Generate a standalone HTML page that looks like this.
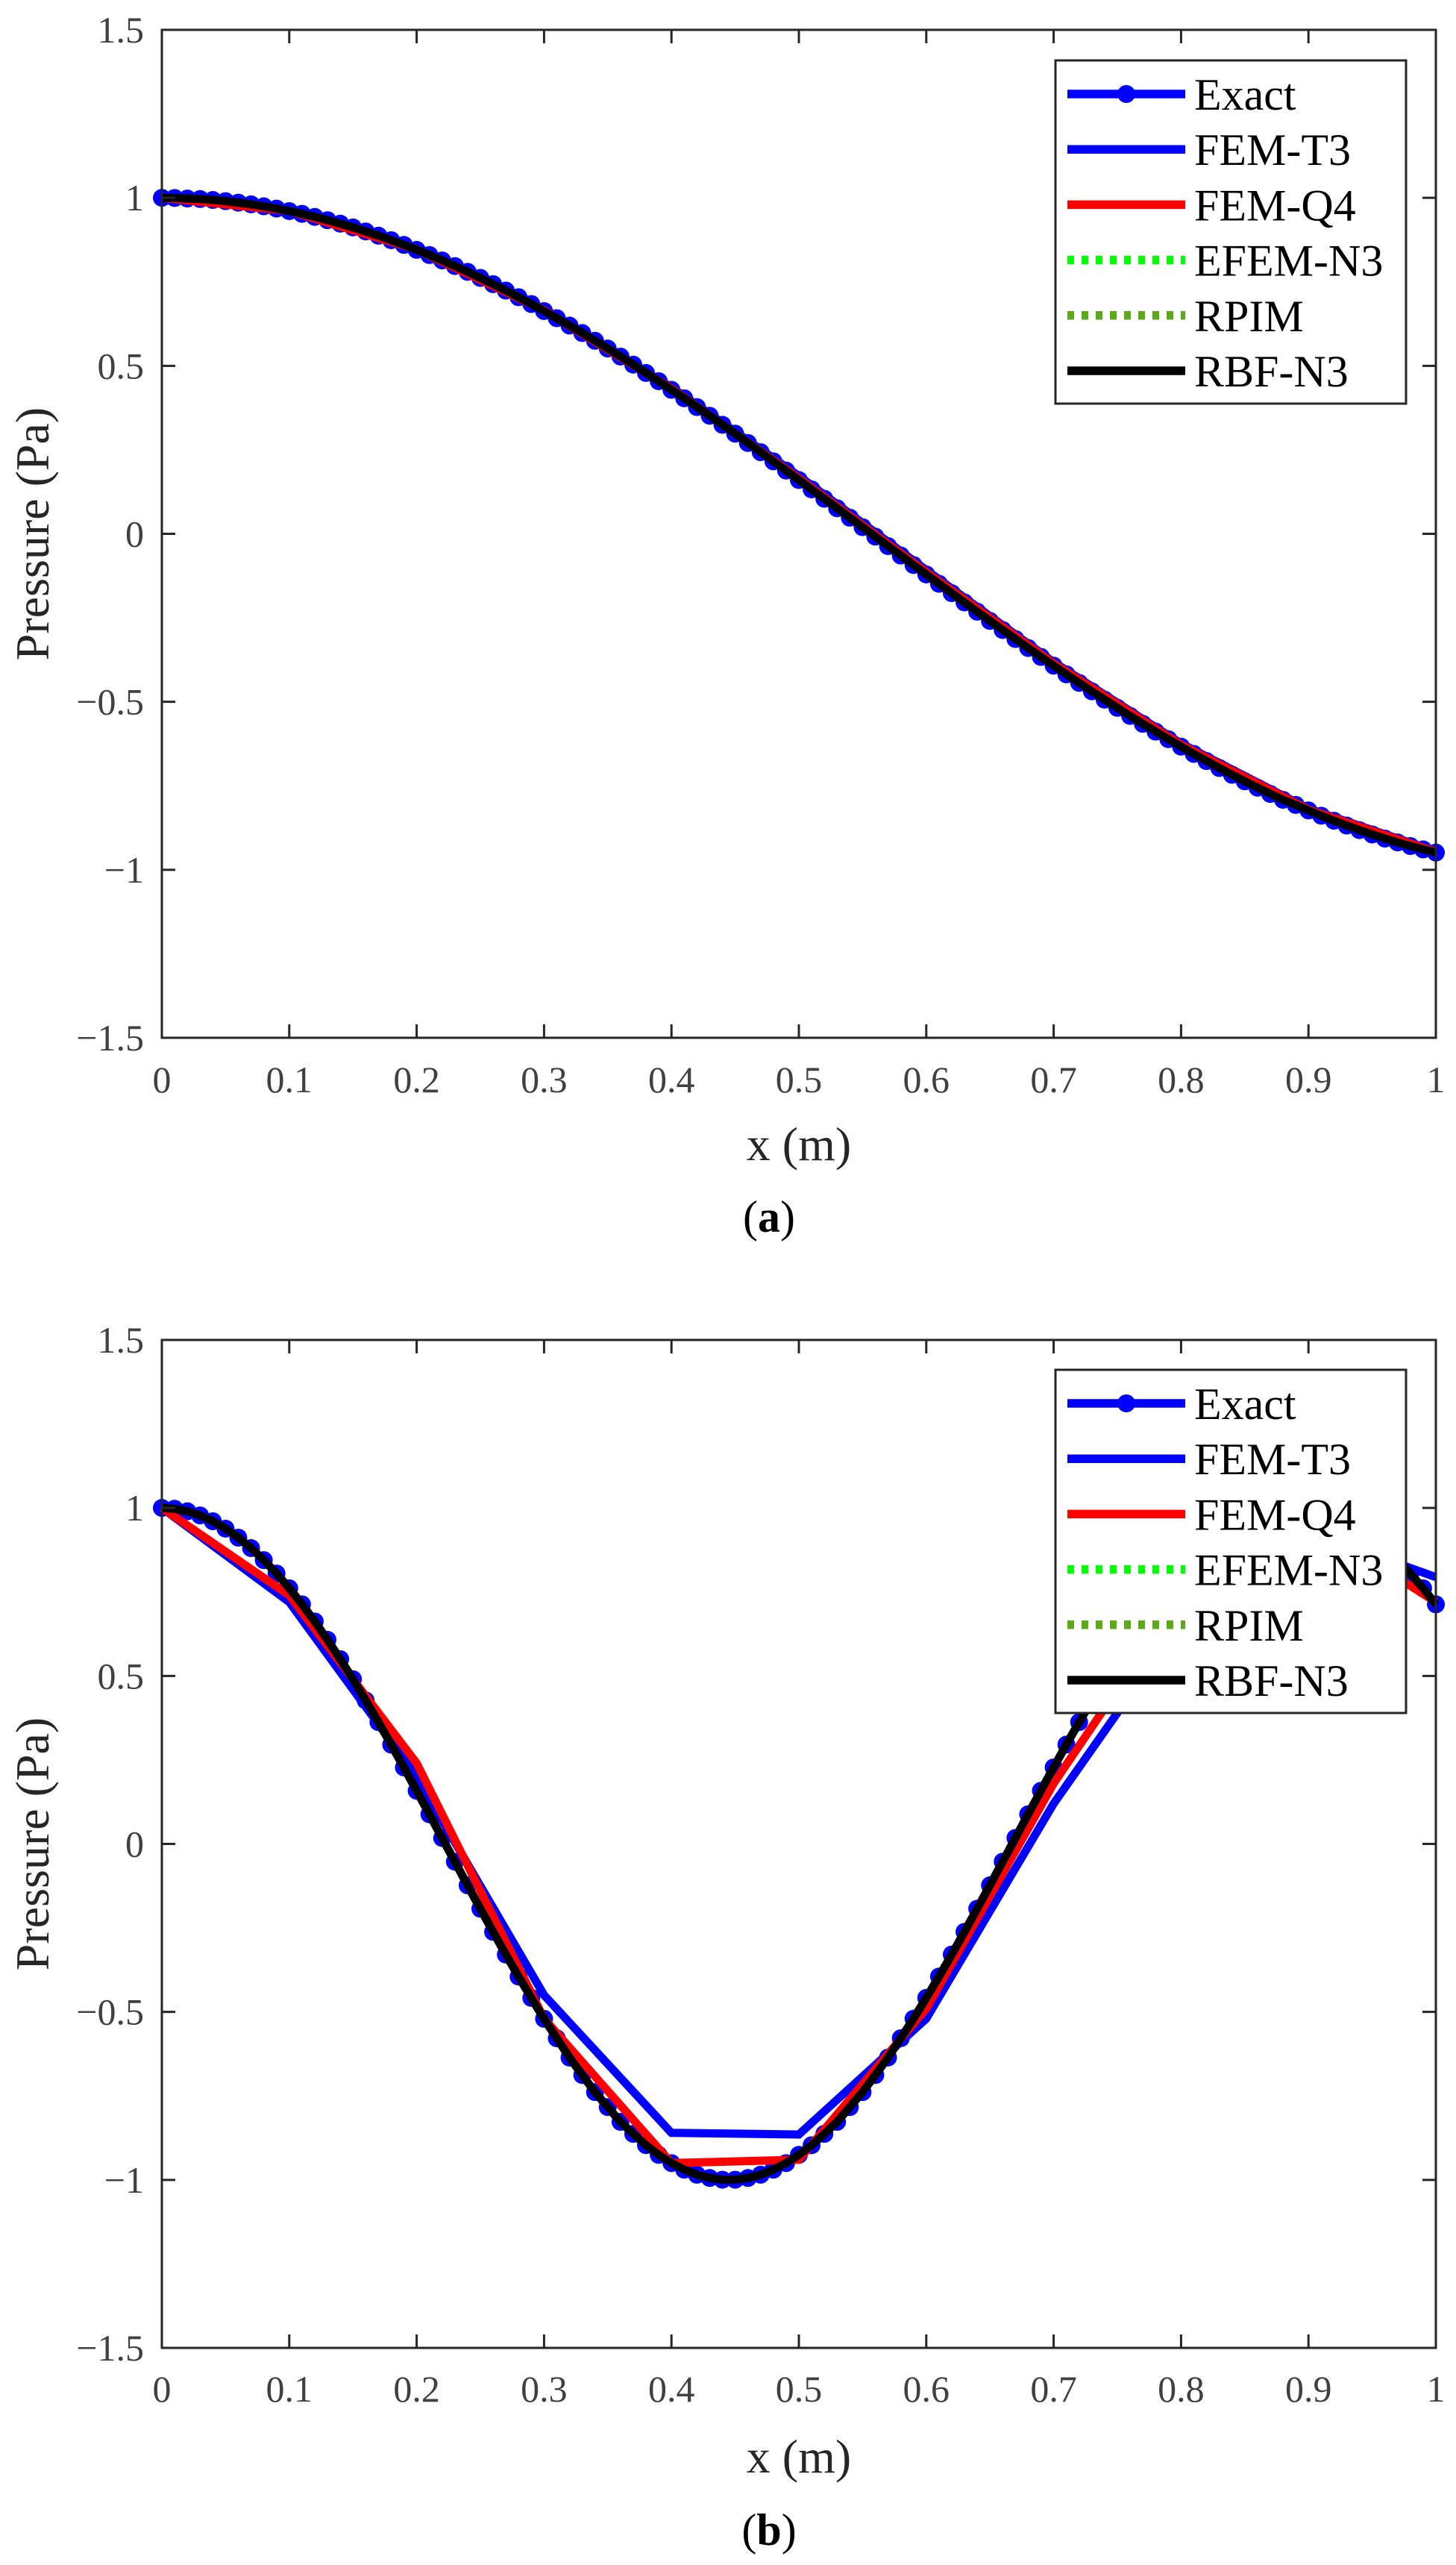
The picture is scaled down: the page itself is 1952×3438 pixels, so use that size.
<!DOCTYPE html>
<html><head><meta charset="utf-8"><style>
html,body{margin:0;padding:0;background:#fff;}
svg{display:block;}
text{font-family:"Liberation Serif","Times New Roman",serif;}
</style></head><body>
<svg id="fig" width="1952" height="3438" viewBox="0 0 1952 3438" xmlns="http://www.w3.org/2000/svg"></svg>
<script>
// ---------- data ----------
const xTickLabels = ["0","0.1","0.2","0.3","0.4","0.5","0.6","0.7","0.8","0.9","1"];
const xTickValues = [0,0.1,0.2,0.3,0.4,0.5,0.6,0.7,0.8,0.9,1];
const yTickValues = [-1.5,-1,-0.5,0,0.5,1,1.5];
const yTickLabels = ["\u22121.5","\u22121","\u22120.5","0","0.5","1","1.5"];
const xExact = [0,0.01,0.02,0.03,0.04,0.05,0.06,0.07,0.08,0.09,0.1,0.11,0.12,0.13,0.14,0.15,0.16,0.17,0.18,0.19,0.2,0.21,0.22,0.23,0.24,0.25,0.26,0.27,0.28,0.29,0.3,0.31,0.32,0.33,0.34,0.35,0.36,0.37,0.38,0.39,0.4,0.41,0.42,0.43,0.44,0.45,0.46,0.47,0.48,0.49,0.5,0.51,0.52,0.53,0.54,0.55,0.56,0.57,0.58,0.59,0.6,0.61,0.62,0.63,0.64,0.65,0.66,0.67,0.68,0.69,0.7,0.71,0.72,0.73,0.74,0.75,0.76,0.77,0.78,0.79,0.8,0.81,0.82,0.83,0.84,0.85,0.86,0.87,0.88,0.89,0.9,0.91,0.92,0.93,0.94,0.95,0.96,0.97,0.98,0.99,1];
const xNodes = [0,0.1,0.2,0.3,0.4,0.5,0.6,0.7,0.8,0.9,1];
const exactA = [1,0.9996,0.998,0.9964,0.9936,0.9901,0.9857,0.9806,0.9747,0.968,0.9605,0.9523,0.9433,0.9335,0.9231,0.9119,0.9,0.8873,0.8739,0.8598,0.8451,0.8297,0.8137,0.797,0.7797,0.7617,0.7431,0.7239,0.7042,0.6839,0.6629,0.6417,0.6197,0.5975,0.5746,0.5514,0.5275,0.5036,0.4787,0.4542,0.4285,0.4034,0.3771,0.3513,0.3244,0.2981,0.2704,0.243,0.2157,0.1881,0.1601,0.1322,0.1043,0.0761,0.048,0.0198,-0.0084,-0.0366,-0.0647,-0.0929,-0.1209,-0.1488,-0.1766,-0.2042,-0.2318,-0.2592,-0.2864,-0.3132,-0.3399,-0.3664,-0.3925,-0.4183,-0.4437,-0.4689,-0.4937,-0.518,-0.542,-0.5655,-0.5887,-0.6113,-0.6335,-0.6552,-0.6764,-0.697,-0.7172,-0.7367,-0.7557,-0.7741,-0.7918,-0.8069,-0.8233,-0.839,-0.854,-0.8683,-0.882,-0.8949,-0.9071,-0.9186,-0.9294,-0.9394,-0.9487];
const t3A = [1,0.962,0.848,0.668,0.436,0.172,-0.108,-0.382,-0.624,-0.818,-0.945];
const q4A = [1,0.961,0.846,0.665,0.432,0.165,-0.114,-0.386,-0.628,-0.821,-0.947];
const exactB = [1,0.9975,0.99,0.9777,0.9604,0.9383,0.9116,0.8804,0.8447,0.8048,0.7609,0.7132,0.662,0.6075,0.55,0.4902,0.427,0.3624,0.2955,0.2275,0.1581,0.0881,0.0176,-0.0529,-0.1233,-0.1929,-0.2618,-0.3294,-0.3949,-0.4583,-0.5204,-0.5786,-0.6359,-0.6879,-0.7387,-0.7833,-0.8273,-0.8631,-0.8966,-0.9256,-0.95,-0.9696,-0.9845,-0.9944,-0.9994,-0.9994,-0.9944,-0.9846,-0.9696,-0.95,-0.9255,-0.8967,-0.863,-0.8273,-0.7833,-0.7386,-0.688,-0.6358,-0.5784,-0.5203,-0.4583,-0.3948,-0.3292,-0.2617,-0.1928,-0.1231,-0.0527,0.0178,0.0883,0.1583,0.2276,0.2957,0.3625,0.4273,0.49,0.5502,0.6082,0.6622,0.7149,0.761,0.805,0.8448,0.8804,0.9117,0.9384,0.9604,0.9777,0.9901,0.9975,1,0.9975,0.99,0.9776,0.9603,0.9383,0.9115,0.8802,0.8446,0.8047,0.7607,0.7131];
const t3B = [1,0.72,0.2,-0.45,-0.86,-0.865,-0.52,0.12,0.66,0.93,0.794];
const q4B = [1,0.74,0.24,-0.52,-0.95,-0.94,-0.49,0.18,0.74,0.96,0.72];
const legendLabels = ["Exact","FEM-T3","FEM-Q4","EFEM-N3","RPIM","RBF-N3"];

// ---------- drawing ----------
const NS="http://www.w3.org/2000/svg";
const svg=document.getElementById('fig');
function mk(tag,attrs,parent){const e=document.createElementNS(NS,tag);for(const k in attrs)e.setAttribute(k,attrs[k]);(parent||svg).appendChild(e);return e;}
const L=217,R=1925;
function panel(top,bottom,id,exact,t3,q4,tickY,xlabY,capY,legTop,cap){
  const g=mk('g',{});
  
  
  const sx=v=>L+(R-L)*v;
  const sy=v=>top+(1.5-v)*(bottom-top)/3;
  const clipId='clip'+id;
  const cp=mk('clipPath',{id:clipId},g);mk('rect',{x:L-14,y:top,width:R-L+28,height:bottom-top},cp);
  const plot=mk('g',{'clip-path':'url(#'+clipId+')'},g);
  const pts=(xs,ys)=>xs.map((x,i)=>sx(x).toFixed(1)+','+sy(ys[i]).toFixed(1)).join(' ');
  const ex=mk('polyline',{points:pts(xExact,exact),fill:'none',stroke:'#0000ff','stroke-width':11},plot);
  
  
  xExact.forEach((x,i)=>{const c=mk('circle',{cx:sx(x),cy:sy(exact[i]),r:12,fill:'#0000ff'},plot);
    
    });
  const t=mk('polyline',{points:pts(xNodes,t3),fill:'none',stroke:'#0000ff','stroke-width':11},plot);
  
  
  const q=mk('polyline',{points:pts(xNodes,q4),fill:'none',stroke:'#ff0000','stroke-width':11},plot);
  
  
  const e1=mk('polyline',{points:pts(xExact,exact),fill:'none',stroke:'#00ff00','stroke-width':10,'stroke-dasharray':'9 10'},plot);
  
  
  const r1=mk('polyline',{points:pts(xExact,exact),fill:'none',stroke:'#5aaa1a','stroke-width':10,'stroke-dasharray':'9 10'},plot);
  
  
  const b=mk('polyline',{points:pts(xExact,exact),fill:'none',stroke:'#000','stroke-width':11},plot);
  
  
  const ax=mk('rect',{x:L,y:top,width:R-L,height:bottom-top,fill:'none',stroke:'#262626','stroke-width':3},g);
  
  
  xTickValues.forEach((v,i)=>{const x=sx(v);
    mk('line',{x1:x,y1:bottom,x2:x,y2:bottom-18,stroke:'#262626','stroke-width':3},g);
    mk('line',{x1:x,y1:top,x2:x,y2:top+18,stroke:'#262626','stroke-width':3},g);
    const tx=mk('text',{x:x,y:tickY+17,'font-size':50,fill:'#404040','text-anchor':'middle'},g);tx.textContent=xTickLabels[i];
    
    });
  yTickValues.forEach((v,i)=>{const y=sy(v);
    mk('line',{x1:L,y1:y,x2:L+18,y2:y,stroke:'#262626','stroke-width':3},g);
    mk('line',{x1:R,y1:y,x2:R-18,y2:y,stroke:'#262626','stroke-width':3},g);
    const ty=mk('text',{x:193,y:y+17,'font-size':50,fill:'#404040','text-anchor':'end'},g);ty.textContent=yTickLabels[i];
    
    });
  const yl=mk('text',{x:0,y:0,'font-size':64,fill:'#262626','text-anchor':'middle',transform:'translate(65,'+((top+bottom)/2)+') rotate(-90)'},g);
  yl.textContent='Pressure (Pa)';
  
  
  const xl=mk('text',{x:(L+R)/2,y:xlabY+22,'font-size':64,fill:'#262626','text-anchor':'middle'},g);
  xl.textContent='x (m)';
  
  
  const ct=mk('text',{x:(L+R)/2-40,y:capY+20,'font-size':60,fill:'#000','text-anchor':'middle'},g);
  ct.innerHTML='(<tspan font-weight="bold">'+cap+'</tspan>)';
  
  
  const lg=mk('g',{},g);
  
  
  mk('rect',{x:1415,y:legTop,width:470,height:460,fill:'#fff',stroke:'#262626','stroke-width':3},lg);
  const styles=[['#0000ff',null],['#0000ff',null],['#ff0000',null],['#00ff00','9 10'],['#5aaa1a','9 10'],['#000',null]];
  legendLabels.forEach((lab,i)=>{const y=legTop+45+i*74.2;
    const en=mk('g',{},lg);
    
    
    const a={x1:1431,y1:y,x2:1589,y2:y,stroke:styles[i][0],'stroke-width':11.5};
    if(styles[i][1])a['stroke-dasharray']=styles[i][1];
    mk('line',a,en);
    if(i===0)mk('circle',{cx:1510,cy:y,r:12,fill:'#0000ff'},en);
    const tt=mk('text',{x:1601,y:y+21,'font-size':60,fill:'#000'},en);tt.textContent=lab;});
}
panel(40,1391,'a',exactA,t3A,q4A,1447,1533,1631,81,'a');
panel(1796,3147,'b',exactB,t3B,q4B,3202,3292,3391,1836,'b');
</script>
</body></html>
